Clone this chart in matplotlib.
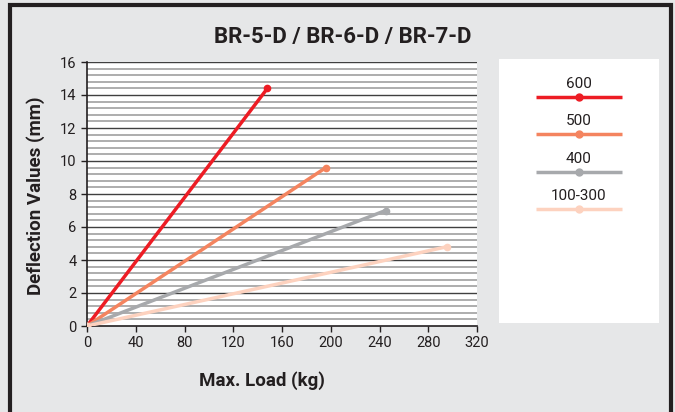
import numpy as np
import matplotlib
matplotlib.use('Agg')
import matplotlib.pyplot as plt
from matplotlib.patches import Rectangle

plt.rcParams['font.family'] = ['Roboto', 'DejaVu Sans']

# series: load (kg) and deflection (mm), each line runs from the origin
labels = ['600', '500', '400', '100-300']
max_load = [148, 196, 245, 295]
deflection = [14.4, 9.6, 7.0, 4.8]
colors = ['#ed1c24', '#f4845f', '#a7a9ac', '#fdd2bf']

x_ticks = [0, 40, 80, 120, 160, 200, 240, 280, 320]
y_ticks = [0, 2, 4, 6, 8, 10, 12, 14, 16]

fig = plt.figure(figsize=(6.75, 4.12), dpi=100)
fig.patch.set_facecolor('#e6e7e8')

# dark frame round the figure
fig.patches.append(Rectangle((10 / 675, -0.02), 661 / 675, 1 - 5 / 412 + 0.02,
                             transform=fig.transFigure, fill=False,
                             edgecolor='#231f20', linewidth=3))

ax = fig.add_axes([87 / 675, 1 - 326 / 412, 390 / 675, 264 / 412])
ax.set_facecolor('white')

# grid lines: minor every 0.4, major every 2
for y in np.arange(0.4, 16.01, 0.4):
    if abs(y / 2 - round(y / 2)) < 1e-6:
        continue
    ax.axhline(y, color='#a0a0a0', linewidth=1.2, zorder=1)
for y in y_ticks[1:]:
    ax.axhline(y, color='#404040', linewidth=1.0, zorder=1)

for lab, xl, yl, c in zip(labels, max_load, deflection, colors):
    ax.plot([0, xl], [0, yl], color=c, linewidth=2.5, marker='o',
            markersize=4.5, zorder=3, solid_capstyle='round')

ax.set_xlim(0, 320)
ax.set_ylim(0, 16)
ax.set_xticks(x_ticks)
ax.set_yticks(y_ticks)
ax.tick_params(labelsize=10.5, colors='#231f20', length=4, width=1)
for s in ['top', 'right']:
    ax.spines[s].set_visible(False)
for s in ['left', 'bottom']:
    ax.spines[s].set_color('#231f20')
    ax.spines[s].set_linewidth(1.2)
ax.margins(0)

fig.text(343 / 675, 1 - 37 / 412, 'BR-5-D / BR-6-D / BR-7-D', ha='center',
         va='center', fontsize=16, fontweight='bold', color='#231f20')
fig.text(36 / 675, 1 - 196 / 412, 'Deflection Values (mm)', ha='center',
         va='center', rotation=90, fontsize=13.5, fontweight='bold', color='#231f20')
fig.text(262 / 675, 1 - 381 / 412, 'Max. Load (kg)', ha='center',
         va='center', fontsize=13.5, fontweight='bold', color='#231f20')

# legend panel
leg = fig.add_axes([499 / 675, 1 - 323 / 412, 160 / 675, 264 / 412])
leg.set_xlim(499, 659)
leg.set_ylim(323, 59)
leg.axis('off')
leg.add_patch(Rectangle((499, 59), 160, 264, facecolor='white', edgecolor='none'))
for i, (lab, c) in enumerate(zip(labels, colors)):
    y_line = 97 + i * 37.5
    leg.plot([536, 622], [y_line, y_line], color=c, linewidth=2.5,
             solid_capstyle='butt')
    leg.plot([579], [y_line], marker='o', color=c, markersize=5)
    leg.text(579, y_line - 13, lab, ha='center', va='center', fontsize=11,
             color='#231f20')

fig.savefig('out.png', dpi=100, facecolor=fig.get_facecolor())
